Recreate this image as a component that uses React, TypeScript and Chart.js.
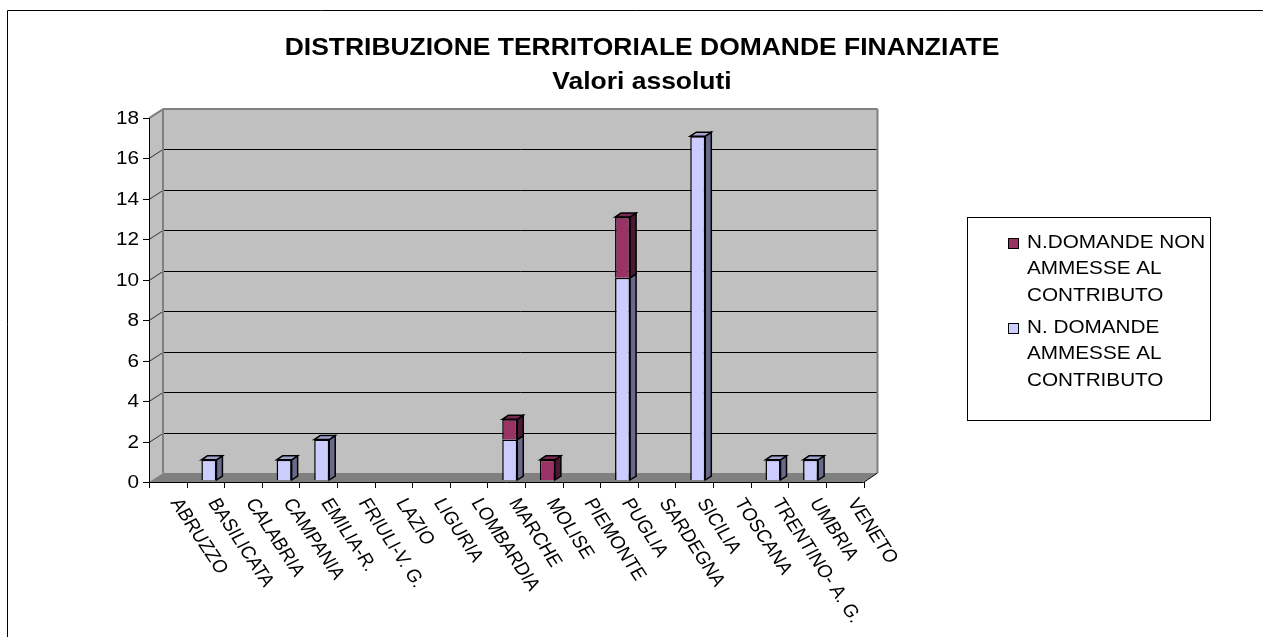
import React, { useEffect, useRef } from "react";
import { Chart, registerables } from "chart.js";

Chart.register(...registerables);

// ---------- data ----------
const categories = [
  "ABRUZZO", "BASILICATA", "CALABRIA", "CAMPANIA", "EMILIA-R.", "FRIULI-V. G.",
  "LAZIO", "LIGURIA", "LOMBARDIA", "MARCHE", "MOLISE", "PIEMONTE", "PUGLIA",
  "SARDEGNA", "SICILIA", "TOSCANA", "TRENTINO- A. G.", "UMBRIA", "VENETO",
];
const ammesse = [0, 1, 0, 1, 2, 0, 0, 0, 0, 2, 0, 0, 10, 0, 17, 0, 1, 1, 0];
const nonAmmesse = [0, 0, 0, 0, 0, 0, 0, 0, 0, 1, 1, 0, 3, 0, 0, 0, 0, 0, 0];
const ammesseLabel = ["N. DOMANDE", "AMMESSE AL", "CONTRIBUTO"];
const nonAmmesseLabel = ["N.DOMANDE NON", "AMMESSE AL", "CONTRIBUTO"];
const titleLines = ["DISTRIBUZIONE TERRITORIALE DOMANDE FINANZIATE", "Valori assoluti"];
const yMin = 0;
const yMax = 18;
const yStep = 2;

// ---------- styles ----------
const FONT = "'Liberation Sans', Arial, sans-serif";
const S = 1.15; // horizontal text stretch of the original picture
const DX = 14;
const DY = -9;
const BDX = 6;
const BDY = -4;
const BOFF_X = 3.5;
const BOFF_Y = -2;
const COLORS = {
  ammesse: { front: "#CCCCFF", side: "#69698C", top: "#A3A3D1" },
  non: { front: "#993366", side: "#4C1933", top: "#7A2952" },
};

function sText(ctx: CanvasRenderingContext2D, text: string, x: number, y: number, align: CanvasTextAlign, font: string, baseline: CanvasTextBaseline = "alphabetic") {
  ctx.save();
  ctx.translate(x, y);
  ctx.scale(S, 1);
  ctx.font = font;
  ctx.textAlign = align;
  ctx.textBaseline = baseline;
  ctx.fillStyle = "#000";
  ctx.fillText(text, 0, 0);
  ctx.restore();
}

function line(ctx: CanvasRenderingContext2D, x1: number, y1: number, x2: number, y2: number, color: string, w = 1) {
  ctx.save();
  ctx.strokeStyle = color;
  ctx.lineWidth = w;
  ctx.beginPath();
  ctx.moveTo(x1, y1);
  ctx.lineTo(x2, y2);
  ctx.stroke();
  ctx.restore();
}

function poly(ctx: CanvasRenderingContext2D, pts: number[][], fill: string, stroke?: string, lw = 1) {
  ctx.beginPath();
  ctx.moveTo(pts[0][0], pts[0][1]);
  for (let i = 1; i < pts.length; i++) ctx.lineTo(pts[i][0], pts[i][1]);
  ctx.closePath();
  ctx.fillStyle = fill;
  ctx.fill();
  if (stroke) {
    ctx.strokeStyle = stroke;
    ctx.lineWidth = lw;
    ctx.lineJoin = "miter";
    ctx.stroke();
  }
}

const excel3d = {
  id: "excel3d",
  beforeDatasetsDraw(chart: any) {
    const ctx: CanvasRenderingContext2D = chart.ctx;
    const { left: L, right: R, top: T, bottom: B } = chart.chartArea;
    const yS = chart.scales.y;
    const xS = chart.scales.x;

    ctx.save();
    // outer frame
    line(ctx, 7.5, 640, 7.5, 10.5, "#000", 1);
    line(ctx, 7.5, 10.5, 1270, 10.5, "#000", 1);

    // titles
    sText(ctx, titleLines[0], 642, 55, "center", `bold 23px ${FONT}`);
    sText(ctx, titleLines[1], 642, 89, "center", `bold 23px ${FONT}`);

    // back wall
    poly(ctx, [[L + DX, T + DY], [R + DX, T + DY], [R + DX, B + DY], [L + DX, B + DY]], "#C0C0C0");
    // side wall
    poly(ctx, [[L, T], [L + DX, T + DY], [L + DX, B + DY], [L, B]], "#C0C0C0");
    // floor
    poly(ctx, [[L, B], [L + DX, B + DY], [R + DX, B + DY], [R, B]], "#808080");

    // gridlines
    const ticks = yS.ticks;
    for (const t of ticks) {
      const yp = yS.getPixelForValue(t.value);
      const y = Math.round(yp) + 0.5;
      const yb = Math.round(yp + DY) + 0.5;
      if (t.value !== yMin && t.value !== yMax) {
        line(ctx, L + DX, yb, R + DX, yb, "#000", 1);
      }
      if (t.value !== yMin) line(ctx, L, y, L + DX, yb, "#333", 1);
      // tick mark + label
      line(ctx, L - 6, y, L, y, "#000", 1);
      sText(ctx, String(t.value), L - 10, y + 1, "right", `18px ${FONT}`, "middle");
    }

    // back wall border
    line(ctx, L + DX, B + DY, L + DX, T + DY, "#808080", 2);
    line(ctx, L + DX, T + DY, R + DX, T + DY, "#808080", 2);
    line(ctx, R + DX, T + DY, R + DX, B + DY, "#808080", 2);
    line(ctx, L, T, L + DX, T + DY, "#808080", 1.5);

    // front axes
    line(ctx, L + 0.5, T, L + 0.5, B, "#000", 1);
    line(ctx, L, B + 0.5, R, B + 0.5, "#000", 1);
    line(ctx, R, B + 0.5, R + DX, B + DY, "#000", 1);

    // x ticks & labels
    const n = categories.length;
    const w = (R - L) / n;
    for (let i = 0; i <= n; i++) {
      const x = Math.round(L + i * w) + 0.5;
      line(ctx, x, B, x, B + 6, "#000", 1);
    }
    for (let i = 0; i < n; i++) {
      const xc = xS.getPixelForValue(i);
      ctx.save();
      ctx.translate(xc + 7, B + 18);
      ctx.scale(S, 1);
      ctx.rotate((60.2 * Math.PI) / 180);
      ctx.font = `17.5px ${FONT}`;
      ctx.textAlign = "left";
      ctx.textBaseline = "middle";
      ctx.fillStyle = "#000";
      ctx.fillText(categories[i], 0, 0);
      ctx.restore();
    }
    ctx.restore();

    // shift bars into depth
    ctx.save();
    ctx.translate(BOFF_X, BOFF_Y);
  },
  afterDatasetsDraw(chart: any) {
    const ctx: CanvasRenderingContext2D = chart.ctx;
    const styles = [COLORS.ammesse, COLORS.non];
    const n = categories.length;
    const metas = chart.data.datasets.map((_: any, i: number) => chart.getDatasetMeta(i));
    for (let i = 0; i < n; i++) {
      let topIdx = -1;
      metas.forEach((m: any, d: number) => {
        if (chart.data.datasets[d].data[i] != null) topIdx = d;
      });
      metas.forEach((m: any, d: number) => {
        if (chart.data.datasets[d].data[i] == null) return;
        const el = m.data[i];
        const { x, y, base, width } = el.getProps(["x", "y", "base", "width"], true);
        const l = x - width / 2;
        const r = x + width / 2;
        const top = Math.min(y, base);
        const bot = Math.max(y, base);
        const st = styles[d];
        poly(ctx, [[r, bot], [r + BDX, bot + BDY], [r + BDX, top + BDY], [r, top]], st.side, "#000", 1.5);
        if (d === topIdx) {
          poly(ctx, [[l, top], [l + BDX, top + BDY], [r + BDX, top + BDY], [r, top]], st.top, "#000", 1.5);
        }
      });
    }
    ctx.restore();

    // legend (top series first, as in the original)
    ctx.save();
    ctx.strokeStyle = "#000";
    ctx.lineWidth = 1;
    ctx.strokeRect(967.5, 217.5, 243, 203);
    const items = [
      { lines: nonAmmesseLabel, color: COLORS.non.front, y: 238 },
      { lines: ammesseLabel, color: COLORS.ammesse.front, y: 323 },
    ];
    for (const it of items) {
      ctx.fillStyle = it.color;
      ctx.fillRect(1008, it.y, 11, 11);
      ctx.strokeRect(1008.5, it.y + 0.5, 10, 10);
      it.lines.forEach((t, k) => {
        sText(ctx, t, 1027, it.y + 9.5 + k * 26.7, "left", `18px ${FONT}`);
      });
    }
    ctx.restore();
  },
};

export default function App() {
  const ref = useRef<HTMLCanvasElement | null>(null);
  useEffect(() => {
    if (!ref.current) return;
    const toNull = (v: number) => (v === 0 ? null : v);
    const chart = new Chart(ref.current, {
      type: "bar",
      data: {
        labels: categories,
        datasets: [
          {
            label: ammesseLabel.join(" "),
            data: ammesse.map(toNull),
            backgroundColor: COLORS.ammesse.front,
            borderColor: "#000",
            borderWidth: 1.5,
            stack: "s",
          },
          {
            label: nonAmmesseLabel.join(" "),
            data: nonAmmesse.map(toNull),
            backgroundColor: COLORS.non.front,
            borderColor: "#000",
            borderWidth: 1.5,
            stack: "s",
          },
        ],
      } as any,
      options: {
        animation: false,
        responsive: true,
        maintainAspectRatio: false,
        layout: { padding: { left: 149, top: 118, right: 399.5, bottom: 155 } },
        datasets: { bar: { categoryPercentage: 1, barPercentage: 0.4 } },
        scales: {
          x: { stacked: true, display: false },
          y: { stacked: true, display: false, min: yMin, max: yMax, ticks: { stepSize: yStep } },
        },
        plugins: {
          legend: { display: false },
          title: { display: false },
          tooltip: { enabled: false },
        },
      },
      plugins: [excel3d],
    });
    return () => chart.destroy();
  }, []);
  return (
    <div style={{ position: "fixed", left: 0, top: 0, width: 1263, height: 637, background: "#fff" }}>
      <canvas ref={ref} />
    </div>
  );
}
